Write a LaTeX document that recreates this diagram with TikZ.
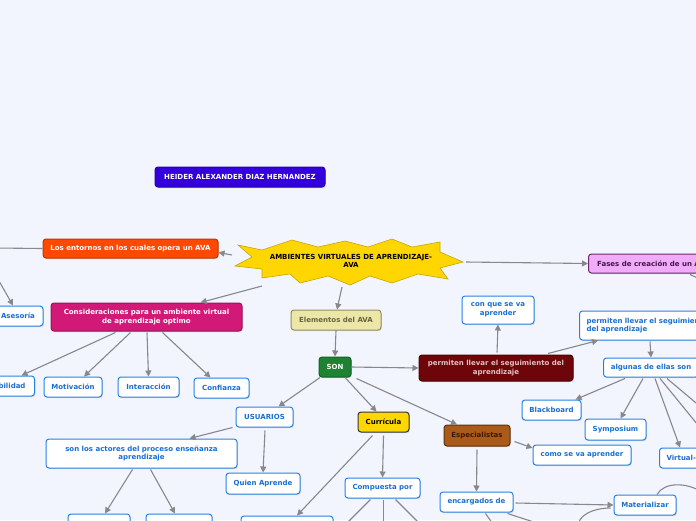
\documentclass[tikz,border=0pt]{standalone}
\usepackage{fontspec}
\setmainfont{DejaVu Sans}
\usetikzlibrary{arrows.meta,shadows}
\definecolor{bg}{RGB}{242,245,253}
\definecolor{bblue}{RGB}{40,130,230}
\definecolor{tblue}{RGB}{25,110,210}
\definecolor{lgray}{RGB}{135,135,140}
\definecolor{heidc}{RGB}{51,0,221}
\definecolor{entc}{RGB}{255,72,0}
\definecolor{consc}{RGB}{210,25,120}
\definecolor{elemc}{RGB}{236,230,168}
\definecolor{elemd}{RGB}{150,145,90}
\definecolor{elemt}{RGB}{105,100,60}
\definecolor{sonc}{RGB}{30,130,50}
\definecolor{redc}{RGB}{110,5,8}
\definecolor{redt}{RGB}{225,195,195}
\definecolor{currc}{RGB}{255,215,0}
\definecolor{espc}{RGB}{170,90,25}
\definecolor{espt}{RGB}{60,25,5}
\definecolor{fasc}{RGB}{240,172,250}
\definecolor{fasd}{RGB}{110,40,110}
\definecolor{fast}{RGB}{70,20,70}
\definecolor{starc}{RGB}{255,214,0}
\definecolor{stard}{RGB}{200,165,0}
\tikzset{
  fnt/.style={font=\fontsize{7}{8.6}\selectfont\bfseries},
  base/.style={fnt, rounded corners=3pt, line width=1pt, inner sep=2pt, align=center,
    drop shadow={shadow xshift=0.8pt, shadow yshift=-1.2pt, opacity=0.25}},
  box/.style={base, draw=bblue, fill=white, text=tblue},
  colbox/.style={base, draw=#1!75!black, fill=#1, text=white},
  arr/.style={draw=lgray, line width=1.1pt, -{Triangle[length=6pt,width=6pt]}},
  ln/.style={draw=lgray, line width=1.1pt},
}
\begin{document}
\begin{tikzpicture}[x=1pt,y=-1pt]
\useasboundingbox (0,0) rectangle (696,520);
\clip (0,0) rectangle (696,520);
\fill[bg] (0,0) rectangle (696,520);

% star
\filldraw[fill=starc, draw=stard, line width=0.6pt]
 (238,245) -- (262,250) -- (292,240) -- (318,247) -- (345,241) -- (368,247) -- (392,239)
 -- (412,247) -- (440,242) -- (440,252) -- (463,262) -- (440,268) -- (448,279) -- (418,274)
 -- (392,283) -- (370,276) -- (350,285) -- (328,276) -- (300,283) -- (290,274) -- (262,278)
 -- (262,269) -- (235,266) -- (252,257) -- cycle;
\node[fnt, align=center, text=black, minimum width=200, minimum height=40] (ava) at (351,261)
 {AMBIENTES VIRTUALES DE APRENDIZAJE-\\AVA};

% nodes
\node[colbox=heidc, minimum width=170, minimum height=20] (heider) at (240,177) {HEIDER ALEXANDER DIAZ HERNANDEZ};
\node[colbox=entc, minimum width=175, minimum height=19] (entornos) at (130.5,248.5) {Los entornos en los cuales opera un AVA};
\node[colbox=consc, minimum width=191, minimum height=28] (consid) at (146.5,317) {Consideraciones para un ambiente virtual\\de aprendizaje optimo};
\node[box, minimum width=50, minimum height=20] (asesoria) at (18,316) {Asesoría};
\node[base, draw=elemd, fill=elemc, text=elemt, minimum width=90, minimum height=20] (elementos) at (336,320) {Elementos del AVA};
\node[box, minimum width=72, minimum height=28] (conque) at (498,310) {con que se va\\aprender};
\node[box, anchor=west, align=left, text width=136, minimum height=29, inner xsep=7pt] (permR) at (579,325.5) {permiten llevar el seguimiento\\del aprendizaje};
\node[colbox=sonc, minimum width=32, minimum height=20] (son) at (335,367) {SON};
\node[base, draw=redc!70!black, fill=redc, text=redt, minimum width=154, minimum height=26] (darkred) at (496,368) {permiten llevar el seguimiento del\\aprendizaje};
\node[box, anchor=west, minimum width=95, minimum height=19] (algunas) at (603,367.5) {algunas de ellas son};
\node[box, anchor=east, minimum width=70, minimum height=20, inner xsep=6pt] (bil) at (35,386) {\hfill Accesibilidad};
\node[box, minimum width=58, minimum height=20] (motiv) at (73,387) {Motivación};
\node[box, minimum width=61, minimum height=20] (inter) at (148.5,387) {Interacción};
\node[box, minimum width=55, minimum height=20] (confi) at (221.5,388) {Confianza};
\node[box, minimum width=57, minimum height=20] (usuarios) at (264.5,417) {USUARIOS};
\node[base, draw=black!80, fill=currc, text=black, minimum width=51, minimum height=20] (curr) at (383.5,422) {Currícula};
\node[base, draw=espc!55!black, fill=espc, text=espt, minimum width=66, minimum height=21] (espec) at (477,435.5) {Especialistas};
\node[box, minimum width=59, minimum height=20] (black) at (551.5,410) {Blackboard};
\node[box, minimum width=61, minimum height=21] (sympo) at (615.5,429.5) {Symposium};
\node[box, minimum width=98, minimum height=20] (comoapr) at (582,455) {como se va aprender};
\node[box, anchor=west, align=left, text width=46, minimum height=20, inner xsep=7pt] (virtual) at (659,458) {Virtual-U};
\node[box, minimum width=191, minimum height=29] (actores) at (141.5,453.5) {son los actores del proceso enseñanza\\aprendizaje};
\node[box, minimum width=74, minimum height=21] (quien) at (263,483.5) {Quien Aprende};
\node[box, minimum width=75, minimum height=20] (compuesta) at (382.5,488) {Compuesta por};
\node[box, minimum width=73, minimum height=20] (encargados) at (476.5,502) {encargados de};
\node[box, minimum width=62, minimum height=20] (material) at (645,505) {Materializar};
\node[box, minimum width=62, minimum height=20] (b1) at (99,524) {};
\node[box, minimum width=66, minimum height=20] (b2) at (179,524) {};
\node[box, minimum width=92, minimum height=20] (b3) at (287,526) {};
\node[base, draw=fasd, fill=fasc, text=fast, anchor=west, minimum width=130, minimum height=19, inner xsep=7pt] (fases) at (588,263.5) {Fases de creación de un AVA};

% free ends
\coordinate (lE) at (-5,248);
\coordinate (lA) at (-5,274);
\coordinate (r1) at (702,430);
\coordinate (r2) at (702,408);
\coordinate (f1) at (702,280);
\coordinate (c1) at (346,524);
\coordinate (c2) at (383.5,524);
\coordinate (c3) at (420,524);
\coordinate (e1) at (493,524);
\coordinate (e2) at (546,526);
\coordinate (q1) at (702,492);
\coordinate (q2) at (578,524);

% connectors
\draw[arr] ([shift={(-119,-6)}]ava.center) -- ([shift={(0,4)}]entornos.east);
\draw[arr] ([shift={(-89,25)}]ava.center) -- ([shift={(54,0)}]consid.north);
\draw[arr] ([shift={(-9,26)}]ava.center) -- ([shift={(1,0)}]elementos.north);
\draw[arr] ([shift={(115,1)}]ava.center) -- (fases.west);
\draw[arr] (elementos.south) -- (son.north);
\draw[arr] (son.east) -- (darkred.west);
\draw[arr] ([shift={(-15,0)}]son.south) -- ([shift={(14,0)}]usuarios.north);
\draw[arr] ([shift={(10,0)}]son.south) -- ([shift={(-7,0)}]curr.north);
\draw[arr] ([shift={(5,1)}]son.south east) -- ([shift={(-20,0)}]espec.north);
\draw[arr] ([shift={(1,-2)}]darkred.north) -- (conque.south);
\draw[arr] ([shift={(52,-1)}]darkred.north) -- ([shift={(19,0)}]permR.south west);
\draw[arr] ([shift={(71,1)}]permR.south west) -- (algunas.north);
\draw[arr] ([shift={(22,1)}]algunas.south west) -- ([shift={(-6,0)}]black.north east);
\draw[arr] ([shift={(40,1)}]algunas.south west) -- ([shift={(5,0)}]sympo.north);
\draw[arr] ([shift={(52,1)}]algunas.south west) -- ([shift={(21,0)}]virtual.north west);
\draw[ln] ([shift={(57,1)}]algunas.south west) -- (r1);
\draw[ln] ([shift={(64,1)}]algunas.south west) -- (r2);
\draw[arr] ([shift={(-31,1)}]consid.south) -- ([shift={(22,0)}]bil.north);
\draw[arr] ([shift={(-16,1)}]consid.south) -- ([shift={(11,0)}]motiv.north);
\draw[arr] ([shift={(0.5,1)}]consid.south) -- (inter.north);
\draw[arr] ([shift={(16,1)}]consid.south) -- ([shift={(-11,0)}]confi.north);
\draw[arr] ([shift={(-3,0)}]usuarios.south west) -- ([shift={(48,0)}]actores.north);
\draw[arr] ([shift={(0.5,3)}]usuarios.south) -- (quien.north);
\draw[arr] ([shift={(-9,1)}]actores.south) -- ([shift={(6,0)}]b1.north);
\draw[arr] ([shift={(9,1)}]actores.south) -- ([shift={(-4,0)}]b2.north);
\draw[arr] ([shift={(0,3)}]curr.south) -- (compuesta.north);
\draw[arr] ([shift={(-11,3)}]curr.south) -- ([shift={(10,0)}]b3.north);
\draw[ln] ([shift={(-12,1)}]compuesta.south) -- (c1);
\draw[ln] ([shift={(1,1)}]compuesta.south) -- (c2);
\draw[ln] ([shift={(13,1)}]compuesta.south) -- (c3);
\draw[arr] ([shift={(4,6)}]espec.east) -- ([shift={(0,-7)}]comoapr.west);
\draw[arr] ([shift={(0,3)}]espec.south) -- (encargados.north);
\draw[arr] ([shift={(2,1)}]encargados.east) -- (material.west);
\draw[ln] ([shift={(9,1)}]encargados.south) -- (e1);
\draw[ln] ([shift={(-6,1)}]encargados.south east) -- (e2);
\draw[ln] (lE) -- (entornos.west);
\draw[arr] (lA) -- ([shift={(-5,0)}]asesoria.north);
\draw[ln] ([shift={(102,1)}]fases.south west) -- (f1);
\draw[ln] ([shift={(12,0)}]material.north) .. controls (664,482) and (686,482) .. (q1);
\draw[ln] (q2) .. controls (582,511) and (600,508) .. ([shift={(-3,3)}]material.west);
\end{tikzpicture}
\end{document}
